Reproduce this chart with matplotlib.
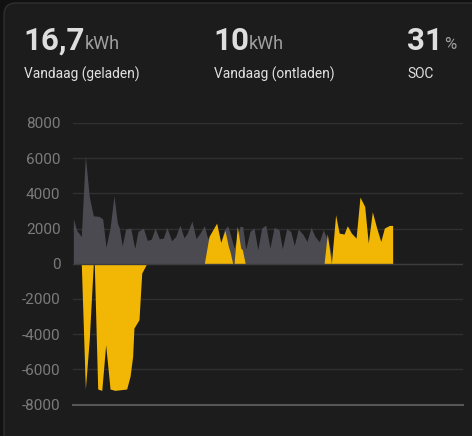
import matplotlib.pyplot as plt
from matplotlib.patches import FancyBboxPatch

plt.rcParams['font.family'] = ['Roboto', 'DejaVu Sans']

# hours of the day / power in W
grey_x = [0.02,0.23,0.51,0.76,1.0,1.25,1.62,1.83,2.03,2.28,2.52,2.73,2.85,3.03,3.24,3.55,3.80,4.0,4.33,4.57,
          4.82,5.05,5.31,5.56,5.78,6.07,6.32,6.58,6.83,7.03,7.32,7.57,7.82,8.08,8.25,8.55,9.05,9.29,9.52,9.66,
          9.91,10.28,10.44,10.63,10.89,11.14,11.37,11.61,11.86,12.12,12.37,12.68,12.88,13.15,13.40,13.62,13.86,
          14.14,14.40,14.65,14.89,15.16,15.40,15.65,15.82,16.0]
grey_y = [2557,1894,1553,6137,3826,2727,2690,2538,947,2027,3864,2311,2027,1023,1970,2027,871,1837,2027,1326,
          1402,2027,1420,1458,2064,1307,1553,2197,1477,1742,2424,1439,1742,2159,1553,1000,1000,1900,2159,1742,
          890,2121,2121,833,1837,2027,795,2027,2197,890,2064,1932,852,1989,1837,1042,1970,
          1686,1269,2064,1553,1250,1932,1364,890,0]

charge_x = [8.08,8.37,8.84,9.09,9.35,9.56,9.66,9.83,9.91,10.11,10.32,10.42,10.6,15.45,15.65,15.9,16.16,16.38,
            16.68,16.88,17.13,17.42,17.66,17.95,18.17,18.42,18.69,18.94,19.16,19.47,19.67,19.671]
charge_y = [0,1553,2311,1212,1894,985,700,0,0,2121,890,795,0,0,1705,0,2784,1742,
            1686,2159,1742,1458,3788,3258,1174,2955,2027,1269,2027,2178,2178,0]

discharge_x = [0.51,0.76,1.0,1.25,1.31,1.52,1.77,2.01,2.28,2.58,3.30,3.51,3.67,3.75,4.06,4.23,4.53]
discharge_y = [0,-7121,-4300,0,0,-7121,-7197,-4602,-7121,-7197,-7121,-6400,-5266,-3655,-3182,-530,0]

yticks = [8000,6000,4000,2000,0,-2000,-4000,-6000,-8000]

W, H = 472, 436
fig = plt.figure(figsize=(W/100, H/100), dpi=100, facecolor='#111111')

# card
bg = fig.add_axes([0,0,1,1])
bg.set_xlim(0,W)
bg.set_ylim(H,0)
bg.axis('off')
bg.add_patch(FancyBboxPatch((4,3), W+30, H+30, boxstyle='round,pad=0,rounding_size=12',
                            fc='#1c1c1c', ec='#303030', lw=1))

# header
def stat(x, big_x, big, unit, unit_x, unit_size, label):
    bg.text(big_x, 50, big, color='#dedede', fontsize=22.5, fontweight='bold', va='baseline', ha='left')
    bg.text(unit_x, 49, unit, color='#a0a0a0', fontsize=unit_size, va='baseline', ha='left')
    bg.text(x, 78.5, label, color='#e1e1e1', fontsize=9.9, va='baseline', ha='left')

stat(24, 23, '16,7', 'kWh', 85, 13, 'Vandaag (geladen)')
stat(214, 213, '10', 'kWh', 249, 13, 'Vandaag (ontladen)')
stat(407, 407, '31', '%', 444, 12, 'SOC')

# chart
ax = fig.add_axes([73/W, 1-404.5/H, 390/W, 281.5/H])
ax.patch.set_alpha(0)
ax.set_xlim(0,24)
ax.set_ylim(-8000,8000)
for s in ax.spines.values():
    s.set_visible(False)
ax.set_xticks([])
ax.set_yticks(yticks)
ax.set_yticklabels([str(t) for t in yticks], color='#7b7b7b', fontsize=11)
ax.tick_params(axis='y', length=0, pad=9)
ax.grid(axis='y', color='#303030', lw=1)
ax.set_axisbelow(True)

ax.fill_between(grey_x, grey_y, 0, color='#4a4a50', lw=0)
ax.fill_between(charge_x, charge_y, 0, color='#f2b705', lw=0)
ax.fill_between(discharge_x, discharge_y, 0, color='#f2b705', lw=0)
ax.axhline(0, color='#3c3c3e', lw=1, zorder=1)
ax.axhline(-8000, color='#555555', lw=1.5, clip_on=False)

fig.savefig('out.png', dpi=100, facecolor=fig.get_facecolor())
